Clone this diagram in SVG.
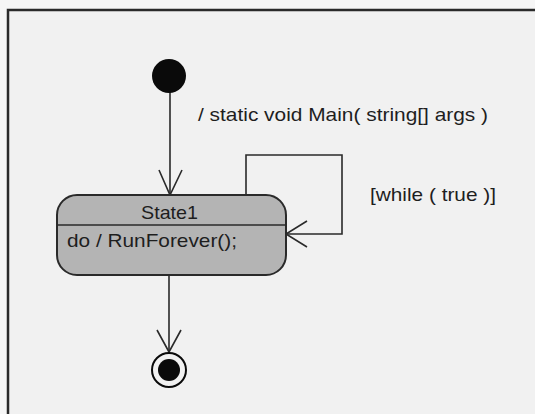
<svg xmlns="http://www.w3.org/2000/svg" width="535" height="414" viewBox="0 0 535 414">
  <style>
    .frame { fill: #f1f1f1; stroke: #2a2a2a; stroke-width: 2.5; }
    .edge { fill: none; stroke: #2a2a2a; stroke-width: 1.6; }
    .head { fill: none; stroke: #2a2a2a; stroke-width: 1.6; stroke-linejoin: miter; }
    .state { fill: #b4b4b4; stroke: #2a2a2a; stroke-width: 2; }
    .dot { fill: #0a0a0a; }
    .label { font-family: "Liberation Sans", Arial, sans-serif; font-size: 19px; fill: #1e1e1e; }
  </style>
  <rect x="0" y="0" width="535" height="414" fill="#f6f6f6"/>
  <rect class="frame" x="8" y="10" width="540" height="420"/>

  <g id="connectors">
    <!-- initial to State1 -->
    <line class="edge" x1="170" y1="92" x2="170" y2="195"/>
    <polyline class="head" points="159,170 170,195 182,170"/>
    <!-- self transition -->
    <polyline class="edge" points="246,195 246,155 342,155 342,234 286,234"/>
    <polyline class="head" points="307,221 286,234 307,247"/>
    <!-- State1 to final -->
    <line class="edge" x1="169" y1="275" x2="169" y2="352"/>
    <polyline class="head" points="157,330 169,352 181,330"/>
  </g>

  <g id="initial">
    <circle class="dot" cx="169" cy="76" r="17"/>
  </g>

  <g id="state1">
    <rect class="state" x="57" y="195" width="229" height="80" rx="20" ry="20"/>
    <line class="edge" x1="57" y1="225" x2="286" y2="225" stroke-width="2"/>
    <text class="label" x="141" y="219" textLength="57" lengthAdjust="spacingAndGlyphs">State1</text>
    <text class="label" x="67" y="247" textLength="170" lengthAdjust="spacingAndGlyphs">do / RunForever();</text>
  </g>

  <g id="final">
    <circle cx="169" cy="370" r="17" fill="none" stroke="#0a0a0a" stroke-width="2"/>
    <circle class="dot" cx="169" cy="370" r="11"/>
  </g>

  <g id="labels">
    <text class="label" x="198" y="121" textLength="290" lengthAdjust="spacingAndGlyphs">/ static void Main( string[] args )</text>
    <text class="label" x="370" y="201" textLength="126" lengthAdjust="spacingAndGlyphs">[while ( true )]</text>
  </g>
</svg>
